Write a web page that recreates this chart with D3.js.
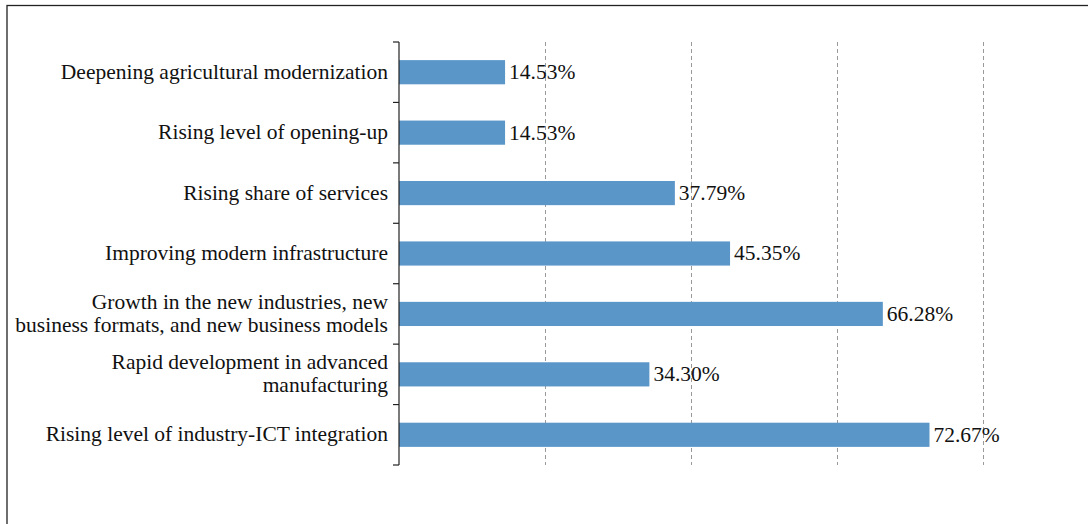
<!DOCTYPE html>
<html>
<head>
<meta charset="utf-8">
<script src="https://cdn.jsdelivr.net/npm/d3@7"></script>
<style>
  html, body { margin: 0; padding: 0; background: #fff; }
  svg { display: block; }
</style>
</head>
<body>
<svg id="chart" width="1088" height="524"></svg>
<script>
// Category labels (top to bottom), each split into display lines
const categories = [
  ["Deepening agricultural modernization"],
  ["Rising level of opening-up"],
  ["Rising share of services"],
  ["Improving modern infrastructure"],
  ["Growth in the new industries, new", "business formats, and new business models"],
  ["Rapid development in advanced", "manufacturing"],
  ["Rising level of industry-ICT integration"]
];
const values = [14.53, 14.53, 37.79, 45.35, 66.28, 34.30, 72.67];
const gridTicks = [20, 40, 60, 80];

const svg = d3.select("#chart");
const font = "'Liberation Serif', 'Times New Roman', serif";
const fontSize = 21.5;

// Outer frame
svg.append("rect")
  .attr("x", 7).attr("y", 5.5)
  .attr("width", 1100).attr("height", 540)
  .attr("fill", "none").attr("stroke", "#222").attr("stroke-width", 1.3);

const x = d3.scaleLinear().domain([0, 80]).range([399, 983]);
const y = d3.scaleBand()
  .domain(d3.range(categories.length))
  .range([42, 465])
  .paddingInner(0.6).paddingOuter(0.3);

// Vertical dashed gridlines
svg.append("g").selectAll("line")
  .data(gridTicks)
  .join("line")
  .attr("x1", d => Math.round(x(d)) + 0.5)
  .attr("x2", d => Math.round(x(d)) + 0.5)
  .attr("y1", 42).attr("y2", 465)
  .attr("stroke", "#9a9a9a").attr("stroke-width", 1)
  .attr("stroke-dasharray", "4,3");

// Bars
svg.append("g").selectAll("rect")
  .data(values)
  .join("rect")
  .attr("x", x(0))
  .attr("y", (d, i) => y(i))
  .attr("width", d => x(d) - x(0))
  .attr("height", y.bandwidth())
  .attr("fill", "#5b96c9");

// Value labels
svg.append("g").selectAll("text")
  .data(values)
  .join("text")
  .attr("x", d => x(d) + 4)
  .attr("y", (d, i) => y(i) + y.bandwidth() / 2)
  .attr("dy", "0.32em")
  .attr("font-family", font)
  .attr("font-size", fontSize)
  .attr("fill", "#111")
  .text(d => d.toFixed(2) + "%");

// Category axis: vertical line with boundary ticks
const step = (465 - 42) / categories.length;
const axis = svg.append("g").attr("stroke", "#222").attr("stroke-width", 1.2);
axis.append("line")
  .attr("x1", 399).attr("x2", 399).attr("y1", 42).attr("y2", 465);
axis.selectAll("line.tick")
  .data(d3.range(categories.length + 1))
  .join("line")
  .attr("class", "tick")
  .attr("x1", 393).attr("x2", 399)
  .attr("y1", i => 42 + i * step).attr("y2", i => 42 + i * step);

// Category labels
const labels = svg.append("g").selectAll("text")
  .data(categories)
  .join("text")
  .attr("text-anchor", "end")
  .attr("font-family", font)
  .attr("font-size", fontSize)
  .attr("fill", "#111")
  .attr("transform", (d, i) => `translate(388, ${y(i) + y.bandwidth() / 2 - 1})`);

labels.selectAll("tspan")
  .data(d => d.map((line, k) => ({ line, k, n: d.length })))
  .join("tspan")
  .attr("x", 0)
  .attr("y", t => (t.k - (t.n - 1) / 2) * 23)
  .attr("dy", "0.35em")
  .text(t => t.line);
</script>
</body>
</html>
